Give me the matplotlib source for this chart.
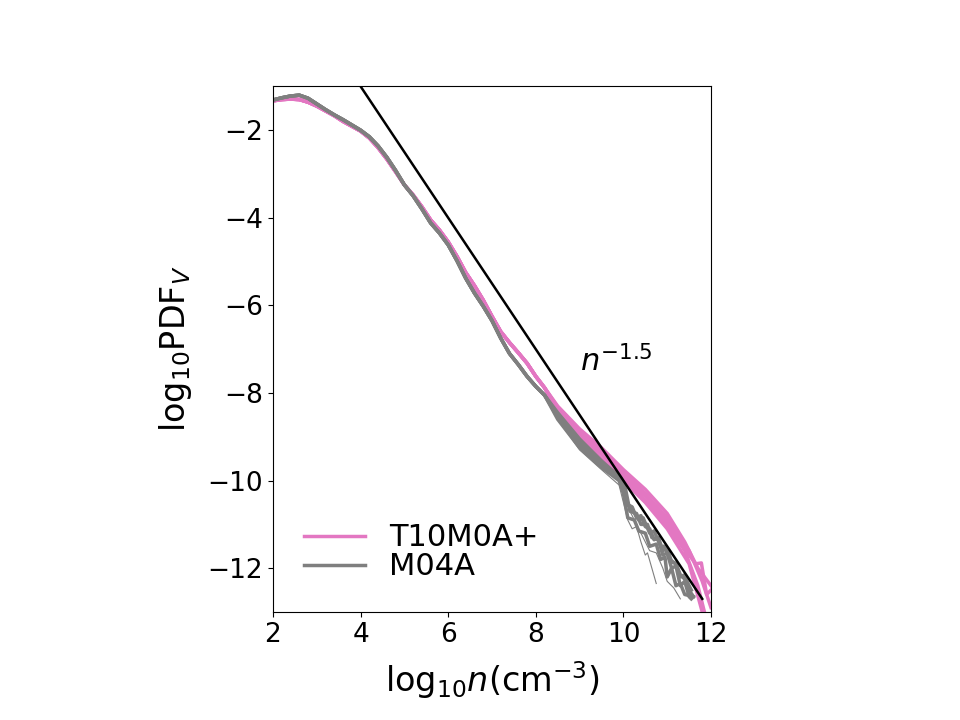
import numpy as np
import matplotlib
matplotlib.use("Agg")
import matplotlib.pyplot as plt

# shared body of the volume-weighted density PDFs (log10 n, log10 PDF)
body_x = [2.0, 2.2, 2.4, 2.6, 2.8, 3.0, 3.2, 3.4, 3.6, 3.8, 4.0, 4.2, 4.4, 4.6, 4.8,
          5.0, 5.2, 5.4, 5.6, 5.8, 6.0, 6.2, 6.4, 6.6, 6.8, 7.0, 7.2, 7.4, 7.6, 7.8,
          8.0, 8.2]
gray_body_y = [-1.31, -1.26, -1.22, -1.20, -1.27, -1.40, -1.53, -1.65, -1.76, -1.88,
               -2.00, -2.15, -2.36, -2.62, -2.92, -3.25, -3.50, -3.80, -4.12, -4.35,
               -4.62, -4.98, -5.38, -5.72, -6.02, -6.35, -6.75, -7.10, -7.35, -7.62,
               -7.85, -8.05]
pink_body_y = [-1.33, -1.30, -1.29, -1.30, -1.36, -1.45, -1.56, -1.67, -1.80, -1.91,
               -2.02, -2.18, -2.40, -2.66, -2.95, -3.25, -3.48, -3.75, -4.05, -4.28,
               -4.55, -4.88, -5.25, -5.55, -5.88, -6.25, -6.60, -6.85, -7.08, -7.32,
               -7.62, -7.88]

# high-density tails, one per snapshot
pink_tails = [
    ([8.5, 9.0, 9.5, 10.0, 10.5, 11.0, 11.5, 11.8, 12.0],
     [-8.32, -8.85, -9.30, -9.80, -10.30, -10.85, -11.60, -12.30, -12.90]),
    ([8.5, 9.0, 9.5, 10.0, 10.5, 11.0, 11.4, 11.7, 11.85],
     [-8.40, -8.95, -9.40, -9.90, -10.45, -11.00, -11.60, -12.40, -13.00]),
    ([8.5, 9.0, 9.5, 10.0, 10.5, 11.0, 11.5, 11.65, 11.78, 11.9, 12.0],
     [-8.35, -8.90, -9.35, -9.85, -10.35, -10.95, -11.70, -11.90, -11.88, -12.60, -12.50]),
    ([8.5, 9.0, 9.5, 10.0, 10.5, 11.0, 11.5, 11.8],
     [-8.45, -9.00, -9.50, -10.00, -10.50, -11.10, -11.90, -13.00]),
    ([8.5, 9.0, 9.5, 10.0, 10.5, 11.0, 11.4, 11.7, 12.0],
     [-8.30, -8.82, -9.25, -9.75, -10.20, -10.75, -11.40, -12.00, -12.40]),
]
gray_tails = [
    ([8.5, 9.0, 9.5, 9.9, 10.0, 10.1, 10.2, 10.3, 10.4, 10.5, 10.6, 10.7, 10.8, 10.9,
      11.0, 11.1, 11.2, 11.3, 11.4, 11.5, 11.6],
     [-8.50, -9.15, -9.60, -9.92, -10.05, -10.55, -10.60, -10.85, -10.80, -11.05, -11.10,
      -11.35, -11.30, -11.60, -11.55, -11.85, -11.90, -12.20, -12.15, -12.50, -12.65]),
    ([8.5, 9.0, 9.5, 9.95, 10.05, 10.15, 10.3, 10.4, 10.55, 10.65, 10.8, 10.9, 11.0,
      11.1, 11.2, 11.3, 11.4, 11.5, 11.55],
     [-8.45, -9.05, -9.55, -9.95, -10.20, -10.70, -10.75, -11.00, -11.00, -11.30, -11.35,
      -11.70, -11.65, -12.00, -11.95, -12.40, -12.30, -12.65, -12.70]),
    ([8.5, 9.0, 9.5, 9.9, 10.0, 10.1, 10.25, 10.35, 10.5, 10.6, 10.75, 10.85, 10.95,
      11.0, 11.1, 11.2, 11.3, 11.4, 11.6],
     [-8.60, -9.25, -9.70, -10.00, -10.30, -10.85, -10.90, -11.15, -11.20, -11.50, -11.45,
      -11.80, -11.75, -12.20, -12.00, -12.40, -12.35, -12.60, -12.65]),
    ([8.5, 9.0, 9.5, 9.85, 10.0, 10.05, 10.2, 10.35, 10.45, 10.6, 10.7, 10.85, 10.95,
      11.05, 11.2, 11.3, 11.45, 11.55],
     [-8.55, -9.15, -9.65, -9.90, -10.10, -10.50, -10.65, -10.90, -10.85, -11.20, -11.15,
      -11.50, -11.50, -11.80, -11.90, -12.15, -12.30, -12.50]),
]
gray_thin_tails = [
    ([8.5, 9.0, 9.5, 9.9, 10.1, 10.2, 10.3, 10.4, 10.5, 10.55, 10.65, 10.75],
     [-8.60, -9.30, -9.75, -10.10, -10.90, -11.10, -11.05, -11.40, -11.70, -11.65,
      -12.00, -12.35]),
    ([8.5, 9.0, 9.5, 9.95, 10.15, 10.3, 10.45, 10.6, 10.75, 10.9, 11.0, 11.15, 11.3],
     [-8.55, -9.20, -9.65, -10.00, -10.70, -11.00, -11.30, -11.60, -11.65, -12.00,
      -12.30, -12.45, -12.70]),
]

# n^-1.5 reference slope
ref_x = [3.0, 11.8]
ref_y = [0.5, -12.7]

PINK = "#e377c2"
GRAY = "#7f7f7f"

fig = plt.figure(figsize=(9.6, 7.2), dpi=100)
ax = fig.add_subplot(111)
fig.subplots_adjust(bottom=0.15)

for i, (tx, ty) in enumerate(pink_tails):
    ax.plot(np.concatenate([body_x, tx]), np.concatenate([pink_body_y, ty]),
            color=PINK, lw=2.5, label="T10M0A+" if i == 0 else None)
for i, (tx, ty) in enumerate(gray_tails):
    ax.plot(np.concatenate([body_x, tx]), np.concatenate([gray_body_y, ty]),
            color=GRAY, lw=2.5, label="M04A" if i == 0 else None)
for tx, ty in gray_thin_tails:
    ax.plot(np.concatenate([body_x, tx]), np.concatenate([gray_body_y, ty]),
            color=GRAY, lw=0.8)

ax.plot(ref_x, ref_y, color="k", lw=1.8)
ax.text(9.0, -7.5, r"$n^{-1.5}$", fontsize=22)

ax.set_xlim(2, 12)
ax.set_ylim(-13, -1)
ax.set_aspect("equal")
ax.set_xticks([2, 4, 6, 8, 10, 12])
ax.set_yticks([-2, -4, -6, -8, -10, -12])
ax.tick_params(labelsize=19)
ax.set_xlabel(r"log$_{10}n$(cm$^{-3}$)", fontsize=24, labelpad=8)
ax.set_ylabel(r"log$_{10}$PDF$_V$", fontsize=24, labelpad=10)
ax.legend(loc="lower left", frameon=False, fontsize=22, labelspacing=0.0,
          borderaxespad=0.6)

fig.savefig("out.png", dpi=100)
